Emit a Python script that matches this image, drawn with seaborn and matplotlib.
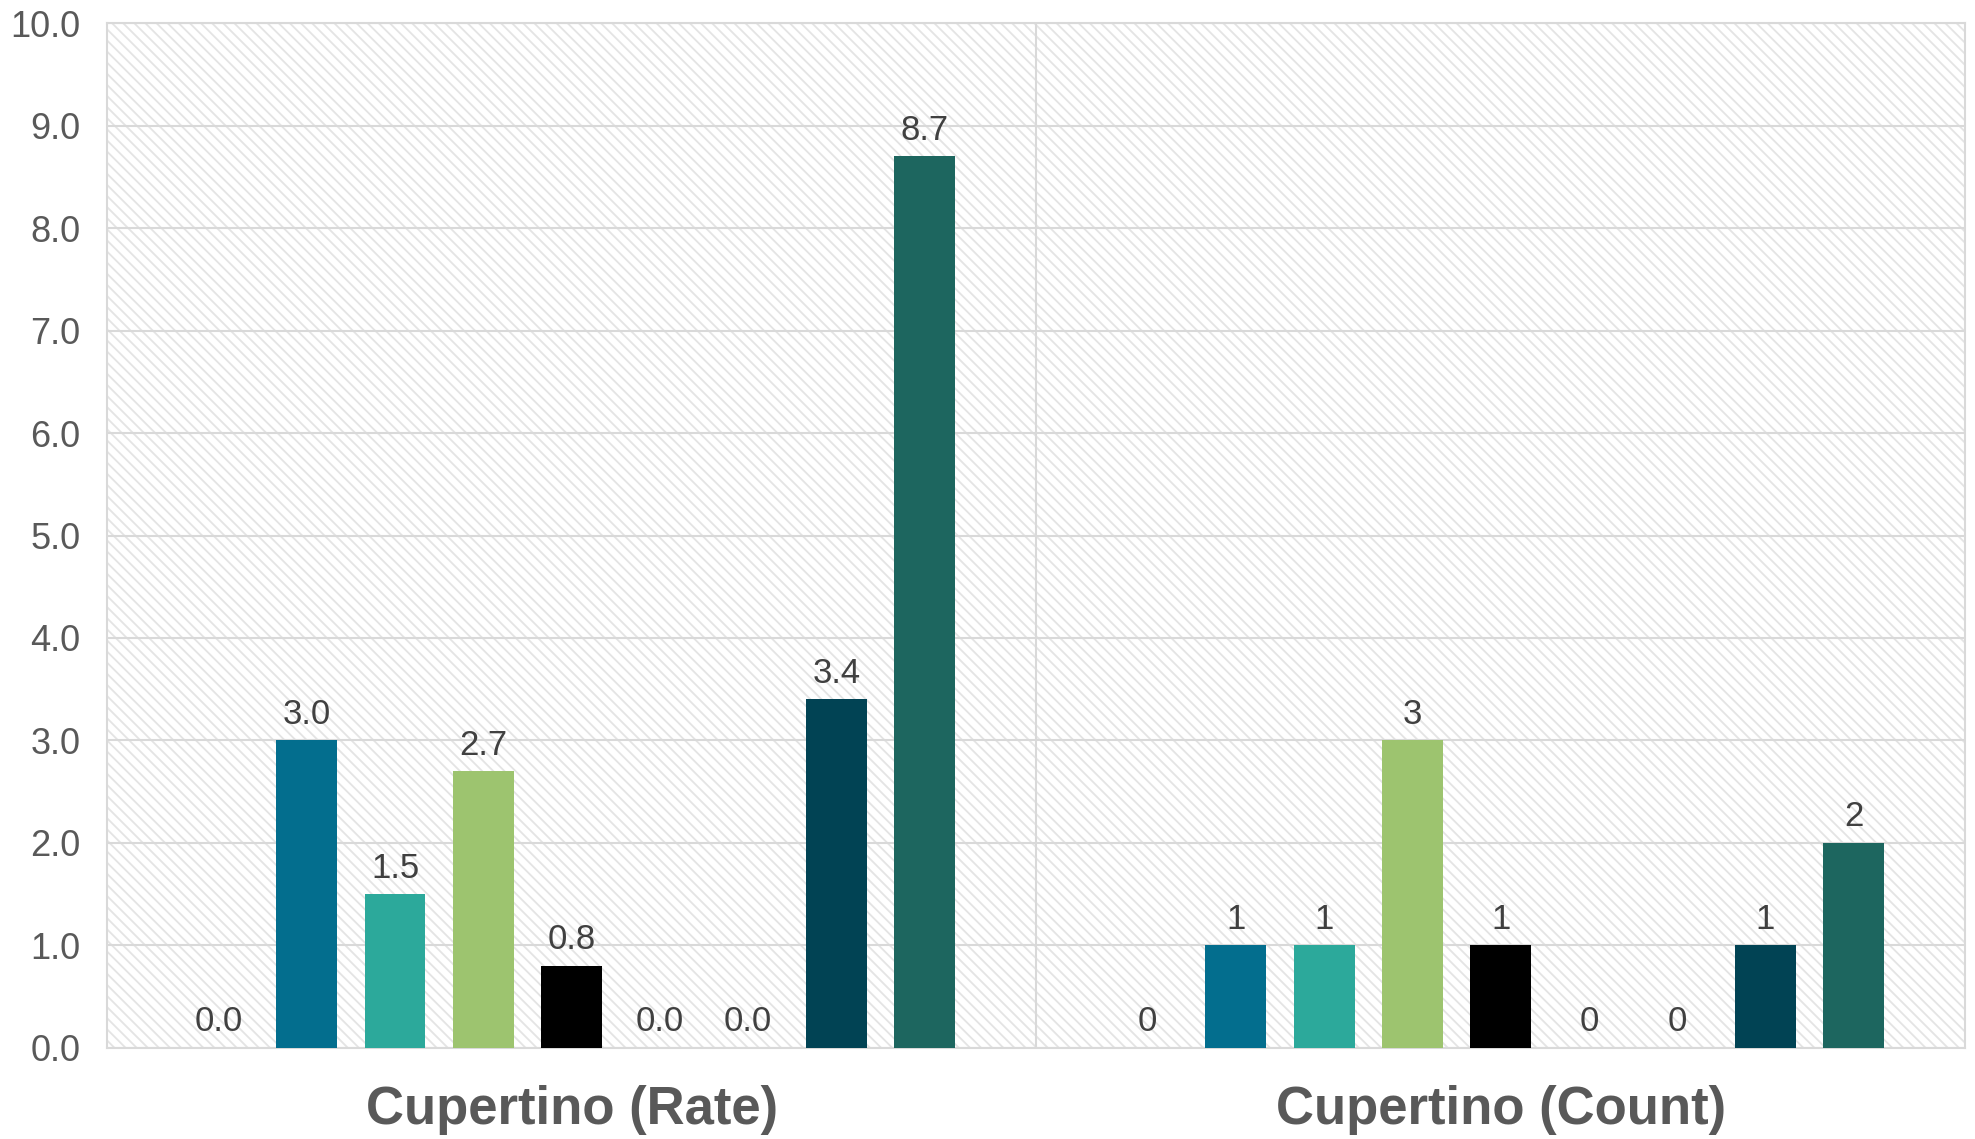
import matplotlib
matplotlib.use("Agg")
import matplotlib.pyplot as plt
import matplotlib.patches as mpatches
import seaborn as sns
import pandas as pd

# ---- data ----
categories = ["Cupertino (Rate)", "Cupertino (Count)"]
series = ["Series 1", "Series 2", "Series 3", "Series 4", "Series 5",
          "Series 6", "Series 7", "Series 8", "Series 9"]
rate_values = [0.0, 3.0, 1.5, 2.7, 0.8, 0.0, 0.0, 3.4, 8.7]
count_values = [0, 1, 1, 3, 1, 0, 0, 1, 2]
colors = ["#5B9BD5", "#036E8E", "#2CA99B", "#9DC46F", "#000000",
          "#7F7F7F", "#A5A5A5", "#014354", "#1D665F"]
y_ticks = [0, 1, 2, 3, 4, 5, 6, 7, 8, 9, 10]

rows = []
for s, v in zip(series, rate_values):
    rows.append({"category": categories[0], "series": s, "value": v})
for s, v in zip(series, count_values):
    rows.append({"category": categories[1], "series": s, "value": v})
df = pd.DataFrame(rows)

sns.set_theme(style="white")
plt.rcParams["font.family"] = ["Liberation Sans", "DejaVu Sans"]
plt.rcParams["hatch.linewidth"] = 1.3

fig = plt.figure(figsize=(19.75, 11.39), dpi=100)
ax = fig.add_axes([0.0542, 0.0799, 0.9408, 0.8999])

# hatched background
bg = mpatches.Rectangle((0, 0), 1, 1, transform=ax.transAxes, facecolor="white",
                        edgecolor="#e4e4e4", linewidth=0, hatch="\\\\\\", zorder=0)
ax.add_patch(bg)

sns.barplot(data=df, x="category", y="value", hue="series", order=categories,
            hue_order=series, palette=colors, width=0.855, gap=0.31,
            errorbar=None, saturation=1, linewidth=0, legend=False, ax=ax, zorder=3)

ax.set_ylim(0, 10)
ax.set_xlim(-0.5, 1.5)
ax.set_yticks(y_ticks)
ax.set_yticklabels([f"{t:.1f}" for t in y_ticks])
ax.yaxis.grid(True, color="#d9d9d9", linewidth=1.5, zorder=1)
ax.set_axisbelow(True)
ax.axvline(0.5, color="#d9d9d9", linewidth=1.5, zorder=1)
for sp in ax.spines.values():
    sp.set_color("#d9d9d9")
    sp.set_linewidth(1.5)
    sp.set_visible(True)

ax.tick_params(axis="y", labelsize=26, labelcolor="#595959", length=0, pad=19)
ax.tick_params(axis="x", labelsize=38, labelcolor="#595959", length=0, pad=27)
for lab in ax.get_xticklabels():
    lab.set_fontweight("bold")
ax.set_xlabel("")
ax.set_ylabel("")

for cont in ax.containers:
    vals = cont.datavalues
    labels = [f"{vals[0]:.1f}", f"{int(round(vals[1]))}"]
    ax.bar_label(cont, labels=labels, padding=7, fontsize=25, color="#404040")

fig.savefig("out.png", dpi=100)
